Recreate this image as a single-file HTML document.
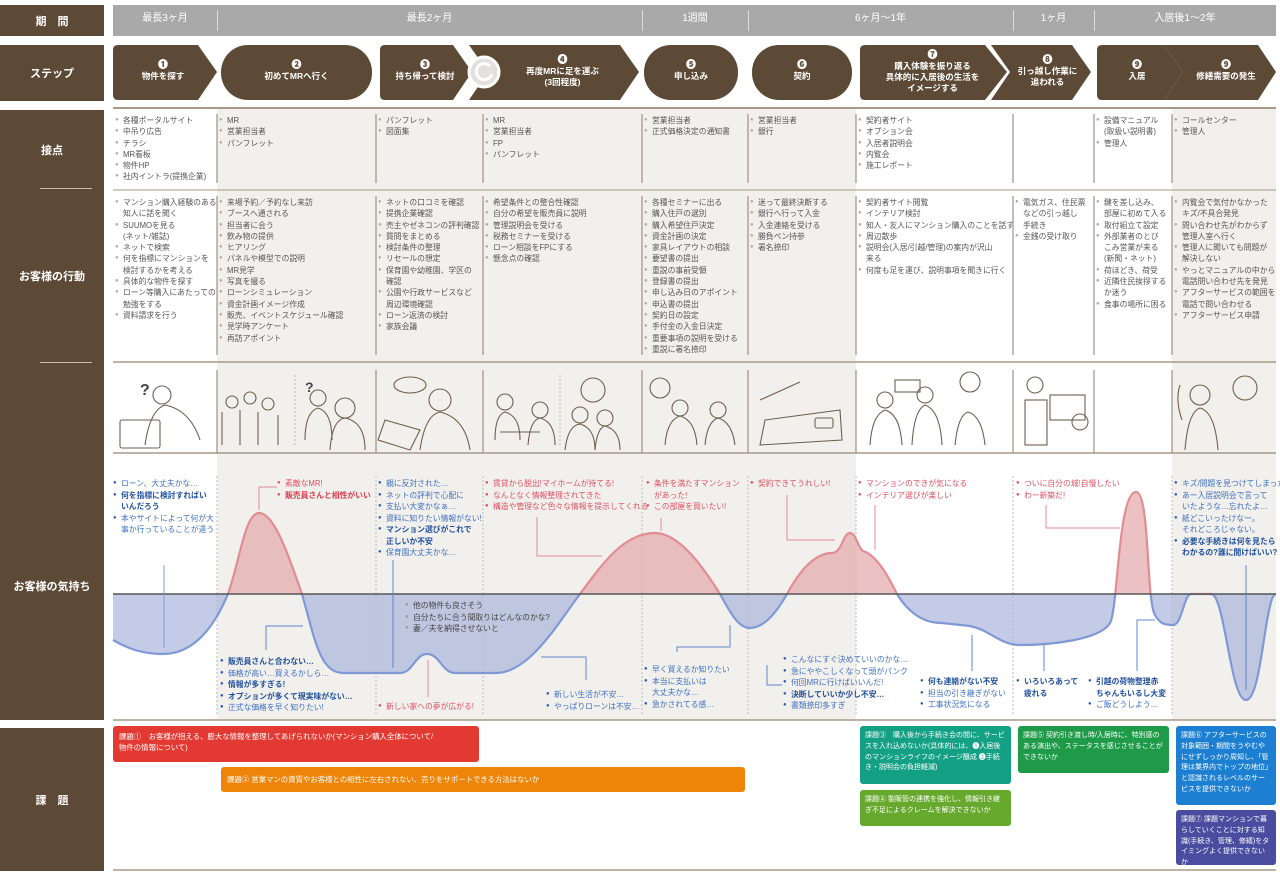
<!DOCTYPE html>
<html><head><meta charset="utf-8"><style>
*{margin:0;padding:0;box-sizing:border-box}
body{width:1280px;height:873px;background:#fff;position:relative;overflow:hidden;font-family:"Liberation Sans","Noto Sans CJK JP",sans-serif;color:#555}
.a{position:absolute}
.lab{position:absolute;left:0;width:104px;background:#5d4a36;color:#fff;font-weight:bold;font-size:11px;display:flex;align-items:center;justify-content:center;text-align:center}
.per{position:absolute;top:9px;color:#fff;font-size:10px;text-align:center}
.st{position:absolute;color:#fff;font-size:8.5px;font-weight:bold;text-align:center;line-height:11px}
.st b{display:block;font-size:10px;line-height:11px}
.ls{position:absolute;font-size:7.8px;line-height:11.3px;color:#555;white-space:nowrap}
.ls div{padding-left:8px;position:relative}
.ls div.b:before{content:"●";position:absolute;left:0;top:0;font-size:6px;color:#b3aa9e}
.em{position:absolute;font-size:7.8px;line-height:11.5px;white-space:nowrap}
.em div{padding-left:8px;position:relative}
.em div.b:before{content:"●";position:absolute;left:0;top:0;font-size:6px}
.r{color:#de5063}.r div.b:before{color:#de5063}
.bl{color:#3d6fc0}.bl div.b:before{color:#2b5db0}
.g{color:#444}.g div.b:before{color:#999}
.k{font-weight:bold;color:#1f4f9c}
.kr{font-weight:bold;color:#d63a4c}
.box{position:absolute;color:#fff;font-size:7.4px;line-height:11px;padding:5px 6px;border-radius:3px;overflow:hidden}
.sm{font-size:7px;line-height:10.8px;padding:5px 5px}
</style></head><body>

<div class="lab" style="top:5px;height:31px">期　間</div>
<div class="lab" style="top:45px;height:56px">ステップ</div>
<div class="lab" style="top:110px;height:610px"></div>
<div class="a" style="left:0;top:110px;width:104px;height:80px;color:#fff;font-weight:bold;font-size:11px;display:flex;align-items:center;justify-content:center">接点</div>
<div class="a" style="left:40px;top:188px;width:52px;height:1px;background:#cdbfae"></div>
<div class="a" style="left:0;top:192px;width:104px;height:168px;color:#fff;font-weight:bold;font-size:11px;display:flex;align-items:center;justify-content:center">お客様の行動</div>
<div class="a" style="left:40px;top:362px;width:52px;height:1px;background:#cdbfae"></div>
<div class="a" style="left:0;top:452px;width:104px;height:268px;color:#fff;font-weight:bold;font-size:11px;display:flex;align-items:center;justify-content:center">お客様の気持ち</div>
<div class="lab" style="top:728px;height:143px">課　題</div>

<div class="a" style="left:113px;top:5px;width:1163px;height:31px;background:#a9a9a9"></div>
<div class="a" style="left:217px;top:10px;width:1px;height:21px;background:#ddd"></div>
<div class="a" style="left:642px;top:10px;width:1px;height:21px;background:#ddd"></div>
<div class="a" style="left:748px;top:10px;width:1px;height:21px;background:#ddd"></div>
<div class="a" style="left:1013px;top:10px;width:1px;height:21px;background:#ddd"></div>
<div class="a" style="left:1094px;top:10px;width:1px;height:21px;background:#ddd"></div>
<div class="per" style="left:113px;width:104px">最長3ヶ月</div>
<div class="per" style="left:217px;width:425px">最長2ヶ月</div>
<div class="per" style="left:642px;width:106px">1週間</div>
<div class="per" style="left:748px;width:265px">6ヶ月〜1年</div>
<div class="per" style="left:1013px;width:81px">1ヶ月</div>
<div class="per" style="left:1094px;width:182px">入居後1〜2年</div>

<div class="a" style="left:217px;top:108px;width:639px;height:612px;background:#f2f0ec"></div>
<div class="a" style="left:1172px;top:108px;width:104px;height:612px;background:#f2f0ec"></div>

<svg class="a" style="left:0;top:0" width="1280" height="110">
<g fill="#5d4a36">
<path d="M118,45 H198 L217,72 L198,100 H118 Q113,100 113,95 V50 Q113,45 118,45Z"/>
<rect x="221" y="45" width="151" height="55" rx="27"/>
<path d="M385,45 H453 L472,72 L453,100 H385 Q380,100 380,95 V50 Q380,45 385,45Z"/>
<path d="M469,45 H620 L639,72 L620,100 H469 L488,72Z"/>
<rect x="644" y="45" width="94" height="55" rx="27"/>
<rect x="752" y="45" width="100" height="55" rx="27"/>
<path d="M865,45 H985 L1007,72 L985,100 H865 Q860,100 860,95 V50 Q860,45 865,45Z"/>
<path d="M991,45 H1072 L1091,72 L1072,100 H991 L1010,72Z"/>
<path d="M1102,45 H1164 L1183,72 L1164,100 H1102 Q1097,100 1097,95 V50 Q1097,45 1102,45Z"/>
<path d="M1164,45 H1258 L1276,72 L1258,100 H1164 L1183,72Z"/>
</g>
<circle cx="484" cy="72" r="15" fill="#e4e1dc" stroke="#fff" stroke-width="3"/>
<path d="M490,66 A8,8 0 1 0 492,74" fill="none" stroke="#fff" stroke-width="3"/>
<line x1="113" y1="108" x2="1276" y2="108" stroke="#a89886" stroke-width="2"/>
</svg>
<div class="st" style="left:113px;width:100px;top:60px"><b>❶</b>物件を探す</div>
<div class="st" style="left:221px;width:151px;top:60px"><b>❷</b>初めてMRへ行く</div>
<div class="st" style="left:380px;width:90px;top:60px"><b>❸</b>持ち帰って検討</div>
<div class="st" style="left:490px;width:145px;top:55px"><b>❹</b>再度MRに足を運ぶ<br>(3回程度)</div>
<div class="st" style="left:644px;width:94px;top:60px"><b>❺</b>申し込み</div>
<div class="st" style="left:752px;width:100px;top:60px"><b>❻</b>契約</div>
<div class="st" style="left:860px;width:145px;top:50px"><b>❼</b>購入体験を振り返る<br>具体的に入居後の生活を<br>イメージする</div>
<div class="st" style="left:1005px;width:85px;top:55px"><b>❽</b>引っ越し作業に<br>追われる</div>
<div class="st" style="left:1097px;width:80px;top:60px"><b>❾</b>入居</div>
<div class="st" style="left:1180px;width:92px;top:60px"><b>❾</b>修繕需要の発生</div>

<svg class="a" style="left:0;top:0" width="1280" height="873">
<g stroke="#a89886" stroke-width="1">
<line x1="113" y1="190" x2="1276" y2="190"/>
<line x1="113" y1="362" x2="1276" y2="362" stroke-width="1.5"/>
<line x1="113" y1="453" x2="1276" y2="453" stroke-width="1.5"/>
<line x1="113" y1="720" x2="1276" y2="720" stroke-width="1.5"/>
<line x1="113" y1="870" x2="1276" y2="870" stroke-width="1.5"/>
</g>
<g stroke="#8d7d6b" stroke-width="1">
<line x1="217" y1="114" x2="217" y2="183"/><line x1="376" y1="114" x2="376" y2="183"/><line x1="483" y1="114" x2="483" y2="183"/><line x1="642" y1="114" x2="642" y2="183"/><line x1="748" y1="114" x2="748" y2="183"/><line x1="856" y1="114" x2="856" y2="183"/><line x1="1013" y1="114" x2="1013" y2="183"/><line x1="1094" y1="114" x2="1094" y2="183"/><line x1="1172" y1="114" x2="1172" y2="183"/>
<line x1="217" y1="196" x2="217" y2="355"/><line x1="376" y1="196" x2="376" y2="355"/><line x1="483" y1="196" x2="483" y2="355"/><line x1="642" y1="196" x2="642" y2="355"/><line x1="748" y1="196" x2="748" y2="355"/><line x1="856" y1="196" x2="856" y2="355"/><line x1="1013" y1="196" x2="1013" y2="355"/><line x1="1094" y1="196" x2="1094" y2="355"/><line x1="1172" y1="196" x2="1172" y2="355"/>
<line x1="217" y1="370" x2="217" y2="453"/><line x1="376" y1="370" x2="376" y2="453"/><line x1="483" y1="370" x2="483" y2="453"/><line x1="642" y1="370" x2="642" y2="453"/><line x1="748" y1="370" x2="748" y2="453"/><line x1="856" y1="370" x2="856" y2="453"/><line x1="1013" y1="370" x2="1013" y2="453"/><line x1="1094" y1="370" x2="1094" y2="453"/><line x1="1172" y1="370" x2="1172" y2="453"/>
</g>
<g stroke="#bbb" stroke-width="1" stroke-dasharray="2,2">
<line x1="217" y1="476" x2="217" y2="715"/><line x1="376" y1="476" x2="376" y2="715"/><line x1="483" y1="476" x2="483" y2="715"/><line x1="642" y1="476" x2="642" y2="715"/><line x1="748" y1="476" x2="748" y2="715"/><line x1="856" y1="476" x2="856" y2="715"/><line x1="1013" y1="476" x2="1013" y2="715"/><line x1="1172" y1="476" x2="1172" y2="715"/>
<line x1="295" y1="375" x2="295" y2="445"/><line x1="560" y1="375" x2="560" y2="445"/>
</g>
<g fill="none" stroke="#6e5f50" stroke-width="1.1">
<rect x="120" y="420" width="40" height="28" rx="2"/><circle cx="162" cy="395" r="9"/><path d="M145,445 Q150,410 165,405 Q190,410 200,440"/><text x="140" y="395" font-size="16" fill="#444" stroke="none" font-weight="bold">?</text>
<circle cx="232" cy="402" r="6"/><circle cx="250" cy="398" r="6"/><circle cx="268" cy="404" r="6"/><path d="M222,445 V412 M240,445 V410 M258,445 V412 M278,445 V415"/>
<circle cx="318" cy="398" r="8"/><path d="M305,440 Q305,412 318,408 Q332,412 332,440"/><circle cx="345" cy="408" r="10"/><path d="M330,450 Q332,420 345,418 Q365,422 365,450"/><text x="305" y="392" font-size="14" fill="#444" stroke="none" font-weight="bold">?</text>
<ellipse cx="410" cy="385" rx="16" ry="8"/><circle cx="440" cy="400" r="11"/><path d="M420,450 Q425,415 440,412 Q465,418 470,450"/><path d="M385,420 L420,430 L410,450 L378,440Z"/>
<circle cx="505" cy="402" r="8"/><circle cx="540" cy="410" r="8"/><path d="M495,440 Q495,415 505,412 Q520,416 520,440 M528,445 Q530,420 540,418 Q555,422 555,445"/><path d="M500,432 H540"/>
<circle cx="593" cy="390" r="12"/><circle cx="580" cy="415" r="8"/><circle cx="605" cy="418" r="8"/><path d="M565,450 Q568,425 580,424 Q595,428 595,450 M595,450 Q597,428 605,426 Q620,430 620,450"/>
<circle cx="660" cy="388" r="10"/><circle cx="680" cy="408" r="8"/><circle cx="718" cy="410" r="8"/><path d="M665,445 Q667,420 680,416 Q695,420 697,445 M705,445 Q707,422 718,418 Q732,422 735,445"/>
<path d="M760,400 L800,382 M765,420 L840,410 L842,440 L760,445Z"/><rect x="815" y="418" width="18" height="10" rx="2"/>
<circle cx="885" cy="400" r="8"/><circle cx="925" cy="395" r="8"/><circle cx="970" cy="382" r="10"/><path d="M870,445 Q872,415 885,410 Q900,414 902,445 M912,445 Q914,410 925,405 Q940,410 942,445 M955,445 Q958,415 968,412 Q982,416 985,445"/><rect x="895" y="380" width="25" height="12"/>
<circle cx="1035" cy="385" r="8"/><rect x="1025" y="400" width="22" height="45"/><rect x="1050" y="395" width="35" height="25"/><circle cx="1080" cy="422" r="8"/>
<circle cx="1200" cy="395" r="10"/><path d="M1185,450 Q1188,412 1200,408 Q1215,412 1218,450"/><circle cx="1245" cy="388" r="12"/><path d="M1180,385 Q1175,400 1182,420"/>
</g>
</svg>

<div class="ls" style="left:115px;top:115px"><div class="b">各種ポータルサイト</div><div class="b">中吊り広告</div><div class="b">チラシ</div><div class="b">MR看板</div><div class="b">物件HP</div><div class="b">社内イントラ(提携企業)</div></div>
<div class="ls" style="left:219px;top:115px"><div class="b">MR</div><div class="b">営業担当者</div><div class="b">パンフレット</div></div>
<div class="ls" style="left:378px;top:115px"><div class="b">パンフレット</div><div class="b">図面集</div></div>
<div class="ls" style="left:485px;top:115px"><div class="b">MR</div><div class="b">営業担当者</div><div class="b">FP</div><div class="b">パンフレット</div></div>
<div class="ls" style="left:644px;top:115px"><div class="b">営業担当者</div><div class="b">正式価格決定の通知書</div></div>
<div class="ls" style="left:750px;top:115px"><div class="b">営業担当者</div><div class="b">銀行</div></div>
<div class="ls" style="left:858px;top:115px"><div class="b">契約者サイト</div><div class="b">オプション会</div><div class="b">入居者説明会</div><div class="b">内覧会</div><div class="b">施工レポート</div></div>
<div class="ls" style="left:1096px;top:115px"><div class="b">設備マニュアル</div><div>(取扱い説明書)</div><div class="b">管理人</div></div>
<div class="ls" style="left:1174px;top:115px"><div class="b">コールセンター</div><div class="b">管理人</div></div>

<div class="ls" style="left:115px;top:197px"><div class="b">マンション購入経験のある</div><div>知人に話を聞く</div><div class="b">SUUMOを見る</div><div>(ネット/雑誌)</div><div class="b">ネットで検索</div><div class="b">何を指標にマンションを</div><div>検討するかを考える</div><div class="b">具体的な物件を探す</div><div class="b">ローン等購入にあたっての</div><div>勉強をする</div><div class="b">資料請求を行う</div></div>
<div class="ls" style="left:219px;top:197px"><div class="b">来場予約／予約なし来訪</div><div class="b">ブースへ通される</div><div class="b">担当者に会う</div><div class="b">飲み物の提供</div><div class="b">ヒアリング</div><div class="b">パネルや模型での説明</div><div class="b">MR見学</div><div class="b">写真を撮る</div><div class="b">ローンシミュレーション</div><div class="b">資金計画イメージ作成</div><div class="b">販売、イベントスケジュール確認</div><div class="b">見学時アンケート</div><div class="b">再訪アポイント</div></div>
<div class="ls" style="left:378px;top:197px"><div class="b">ネットの口コミを確認</div><div class="b">提携企業確認</div><div class="b">売主やゼネコンの評判確認</div><div class="b">質問をまとめる</div><div class="b">検討条件の整理</div><div class="b">リセールの想定</div><div class="b">保育園や幼稚園、学区の</div><div>確認</div><div class="b">公園や行政サービスなど</div><div>周辺環境確認</div><div class="b">ローン返済の検討</div><div class="b">家族会議</div></div>
<div class="ls" style="left:485px;top:197px"><div class="b">希望条件との整合性確認</div><div class="b">自分の希望を販売員に説明</div><div class="b">管理説明会を受ける</div><div class="b">税務セミナーを受ける</div><div class="b">ローン相談をFPにする</div><div class="b">懸念点の確認</div></div>
<div class="ls" style="left:644px;top:197px"><div class="b">各種セミナーに出る</div><div class="b">購入住戸の選別</div><div class="b">購入希望住戸決定</div><div class="b">資金計画の決定</div><div class="b">家具レイアウトの相談</div><div class="b">要望書の提出</div><div class="b">重説の事前受領</div><div class="b">登録書の提出</div><div class="b">申し込み日のアポイント</div><div class="b">申込書の提出</div><div class="b">契約日の設定</div><div class="b">手付金の入金日決定</div><div class="b">重要事項の説明を受ける</div><div class="b">重説に署名捺印</div></div>
<div class="ls" style="left:750px;top:197px"><div class="b">迷って最終決断する</div><div class="b">銀行へ行って入金</div><div class="b">入金連絡を受ける</div><div class="b">勝負ペン持参</div><div class="b">署名捺印</div></div>
<div class="ls" style="left:858px;top:197px"><div class="b">契約者サイト閲覧</div><div class="b">インテリア検討</div><div class="b">知人・友人にマンション購入のことを話す</div><div class="b">周辺散歩</div><div class="b">説明会(入居/引越/管理)の案内が沢山</div><div>来る</div><div class="b">何度も足を運び、説明事項を聞きに行く</div></div>
<div class="ls" style="left:1015px;top:197px"><div class="b">電気ガス、住民票</div><div>などの引っ越し</div><div>手続き</div><div class="b">金銭の受け取り</div></div>
<div class="ls" style="left:1096px;top:197px"><div class="b">鍵を差し込み、</div><div>部屋に初めて入る</div><div class="b">取付組立て設定</div><div class="b">外部業者のとび</div><div>こみ営業が来る</div><div>(新聞・ネット)</div><div class="b">荷ほどき、荷受</div><div class="b">近隣住民挨拶する</div><div>か迷う</div><div class="b">食事の場所に困る</div></div>
<div class="ls" style="left:1174px;top:197px"><div class="b">内覧会で気付かなかった</div><div>キズ/不具合発見</div><div class="b">問い合わせ先がわからず</div><div>管理人室へ行く</div><div class="b">管理人に聞いても問題が</div><div>解決しない</div><div class="b">やっとマニュアルの中から</div><div>電話問い合わせ先を発見</div><div class="b">アフターサービスの範囲を</div><div>電話で問い合わせる</div><div class="b">アフターサービス申請</div></div>

<svg class="a" style="left:0;top:0" width="1280" height="873">
<defs>
<clipPath id="up"><rect x="0" y="0" width="1280" height="594"/></clipPath>
<clipPath id="dn"><rect x="0" y="594" width="1280" height="300"/></clipPath>
<path id="cv" d="M113,640 C130,650 145,654 163,654 C195,654 215,625 228,594 C240,560 245,513 259,513 C275,513 290,560 302,594 C315,640 320,673 343,673 L400,673 C413,673 415,654 427,654 C440,654 442,673 455,673 L496,673 C530,673 560,620 580,594 C605,560 625,533 655,533 C680,533 705,570 720,594 C730,612 738,628 750,628 C765,628 778,610 787,594 C800,570 815,553 832,553 C842,553 843,533 850,533 C857,533 858,552 866,552 C880,560 890,580 897,594 C910,615 925,623 942,623 L970,626 C990,630 1000,645 1020,645 C1050,645 1100,640 1110,623 C1118,610 1118,492 1136,492 C1150,492 1146,600 1155,615 C1160,624 1165,625 1173,625 C1182,625 1184,594 1191,594 L1211,594 C1225,594 1230,700 1246,700 C1262,700 1265,594 1276,594"/>
<path id="ar" d="M113,640 C130,650 145,654 163,654 C195,654 215,625 228,594 C240,560 245,513 259,513 C275,513 290,560 302,594 C315,640 320,673 343,673 L400,673 C413,673 415,654 427,654 C440,654 442,673 455,673 L496,673 C530,673 560,620 580,594 C605,560 625,533 655,533 C680,533 705,570 720,594 C730,612 738,628 750,628 C765,628 778,610 787,594 C800,570 815,553 832,553 C842,553 843,533 850,533 C857,533 858,552 866,552 C880,560 890,580 897,594 C910,615 925,623 942,623 L970,626 C990,630 1000,645 1020,645 C1050,645 1100,640 1110,623 C1118,610 1118,492 1136,492 C1150,492 1146,600 1155,615 C1160,624 1165,625 1173,625 C1182,625 1184,594 1191,594 L1211,594 C1225,594 1230,700 1246,700 C1262,700 1265,594 1276,594 L113,594Z"/>
</defs>
<g clip-path="url(#up)"><use href="#ar" fill="#e3a7aa" fill-opacity="0.7"/><use href="#cv" fill="none" stroke="#e28c93" stroke-width="2.2"/></g>
<g clip-path="url(#dn)"><use href="#ar" fill="#a9b5dc" fill-opacity="0.7"/><use href="#cv" fill="none" stroke="#7f98d6" stroke-width="2.2"/></g>
<line x1="113" y1="594" x2="1276" y2="594" stroke="#555" stroke-width="1.5"/>
<g fill="none" stroke-width="1">
<path d="M164,565 V648" stroke="#7f98d6"/>
<path d="M259,510 V487 H277" stroke="#e28c93"/>
<path d="M393,560 V668" stroke="#5f86cf"/>
<path d="M537,517 V556 H602" stroke="#e28c93"/>
<path d="M266,650 V626 H303" stroke="#5f86cf"/>
<path d="M428,660 V697" stroke="#e28c93"/>
<path d="M541,657 H586 V680" stroke="#5f86cf"/>
<path d="M661,518 V531" stroke="#e28c93"/>
<path d="M787,495 V540 H835" stroke="#e28c93"/>
<path d="M875,505 V550" stroke="#e28c93"/>
<path d="M1046,505 V528 H1120" stroke="#e28c93"/>
<path d="M1246,565 V690" stroke="#5f86cf"/>
<path d="M730,625 V647 H677 V652" stroke="#5f86cf"/>
<path d="M767,665 V685 H782" stroke="#5f86cf"/>
<path d="M972,635 V671" stroke="#5f86cf"/>
<path d="M1044,645 V671" stroke="#5f86cf"/>
<path d="M1137,671 V620 H1155" stroke="#5f86cf"/>
</g>
</svg>

<div class="em bl" style="left:113px;top:478px"><div class="b">ローン、大丈夫かな…</div><div class="b k">何を指標に検討すればい</div><div class="k">いんだろう</div><div class="b">本やサイトによって何が大</div><div>事か行っていることが違う</div></div>
<div class="em r" style="left:277px;top:478px"><div class="b">素敵なMR!</div><div class="b kr">販売員さんと相性がいい</div></div>
<div class="em bl" style="left:378px;top:478px"><div class="b">親に反対された…</div><div class="b">ネットの評判で心配に</div><div class="b">支払い大変かなぁ…</div><div class="b">資料に知りたい情報がない!</div><div class="b k">マンション選びがこれで</div><div class="k">正しいか不安</div><div class="b">保育園大丈夫かな…</div></div>
<div class="em r" style="left:485px;top:478px"><div class="b">賃貸から脱出!マイホームが持てる!</div><div class="b">なんとなく情報整理されてきた</div><div class="b">構造や管理など色々な情報を提示してくれる</div></div>
<div class="em g" style="left:405px;top:600px"><div class="b">他の物件も良さそう</div><div class="b">自分たちに合う間取りはどんなのかな?</div><div class="b">妻／夫を納得させないと</div></div>
<div class="em bl" style="left:220px;top:656px"><div class="b k">販売員さんと合わない…</div><div class="b">価格が高い…買えるかしら…</div><div class="b k">情報が多すぎる!</div><div class="b k">オプションが多くて現実味がない…</div><div class="b">正式な価格を早く知りたい!</div></div>
<div class="em r" style="left:378px;top:701px"><div class="b">新しい家への夢が広がる!</div></div>
<div class="em bl" style="left:546px;top:689px"><div class="b">新しい生活が不安…</div><div class="b">やっぱりローンは不安…</div></div>
<div class="em r" style="left:646px;top:478px"><div class="b">条件を満たすマンション</div><div>があった!</div><div class="b">この部屋を買いたい!</div></div>
<div class="em r" style="left:750px;top:478px"><div class="b">契約できてうれしい!</div></div>
<div class="em r" style="left:858px;top:478px"><div class="b">マンションのできが気になる</div><div class="b">インテリア選びが楽しい</div></div>
<div class="em r" style="left:1016px;top:478px"><div class="b">ついに自分の城!自慢したい</div><div class="b">わー新築だ!</div></div>
<div class="em bl" style="left:1174px;top:478px"><div class="b">キズ/問題を見つけてしまった…</div><div class="b">あー入居説明会で言って</div><div>いたような…忘れたよ…</div><div class="b">紙どこいったけなー。</div><div>それどころじゃない。</div><div class="b k">必要な手続きは何を見たら</div><div class="k">わかるの?誰に聞けばいい?</div></div>
<div class="em bl" style="left:644px;top:664px"><div class="b">早く買えるか知りたい</div><div class="b">本当に支払いは</div><div>大丈夫かな…</div><div class="b">急かされてる感…</div></div>
<div class="em bl" style="left:783px;top:654px"><div class="b">こんなにすぐ決めていいのかな…</div><div class="b">急にややこしくなって頭がパンク</div><div class="b">何回MRに行けばいいんだ!</div><div class="b k">決断していいか少し不安…</div><div class="b">書類捺印多すぎ</div></div>
<div class="em bl" style="left:920px;top:676px"><div class="b k">何も連絡がない不安</div><div class="b">担当の引き継ぎがない</div><div class="b">工事状況気になる</div></div>
<div class="em bl" style="left:1016px;top:676px"><div class="b k">いろいろあって</div><div class="k">疲れる</div></div>
<div class="em bl" style="left:1088px;top:676px"><div class="b k">引越の荷物整理赤</div><div class="k">ちゃんもいるし大変</div><div class="b">ご飯どうしよう…</div></div>

<div class="box" style="left:113px;top:726px;width:366px;height:36px;background:#e23a33">課題①　お客様が抱える、膨大な情報を整理してあげられないか(マンション購入全体について/<br>物件の情報について)</div>
<div class="box" style="left:221px;top:767px;width:524px;height:25px;background:#ee8508;padding-top:7px">課題② 営業マンの資質やお客様との相性に左右されない、売りをサポートできる方法はないか</div>
<div class="box sm" style="left:860px;top:726px;width:151px;height:58px;background:#14a084">課題③　購入後から手続き会の間に、サービスを入れ込めないか(具体的には、❶入居後のマンションライフのイメージ醸成 ❷手続き・説明会の負担軽減)</div>
<div class="box sm" style="left:860px;top:790px;width:151px;height:36px;background:#67a92c">課題④ 製販管の連携を強化し、情報引き継ぎ不足によるクレームを解決できないか</div>
<div class="box sm" style="left:1018px;top:726px;width:151px;height:47px;background:#1e9a48">課題⑤ 契約引き渡し時/入居時に、特別感のある演出や、ステータスを感じさせることができないか</div>
<div class="box sm" style="left:1176px;top:726px;width:100px;height:79px;background:#1c7fd1">課題⑥ アフターサービスの対象範囲・期間をうやむやにせずしっかり周知し、「管理は業界内でトップの地位」と認識されるレベルのサービスを提供できないか</div>
<div class="box sm" style="left:1176px;top:810px;width:100px;height:55px;background:#4a4d9f">課題⑦ 課題マンションで暮らしていくことに対する知識(手続き、管理、修繕)をタイミングよく提供できないか</div>
</body></html>
